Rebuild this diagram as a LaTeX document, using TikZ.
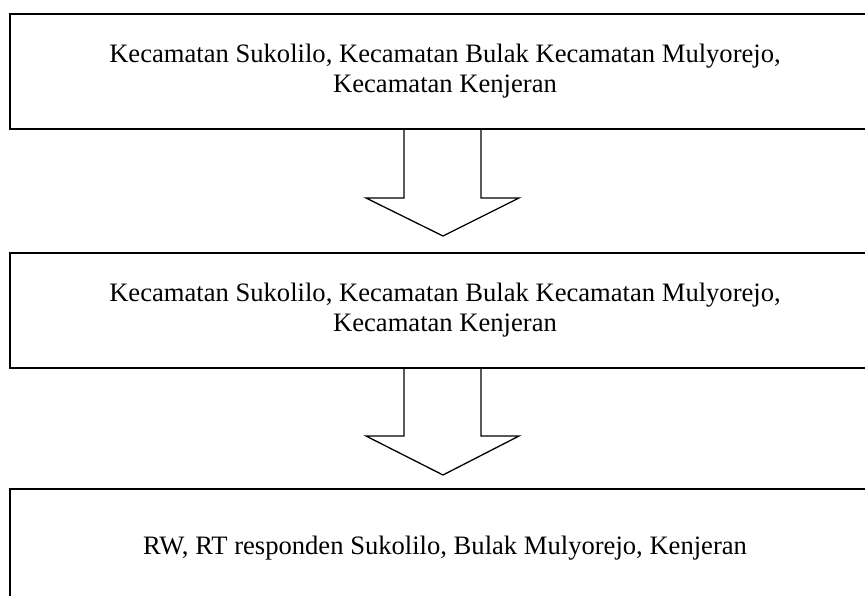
\documentclass[tikz,border=0pt]{standalone}
\usepackage{fontspec}
\setmainfont{Liberation Serif}
\begin{document}
\begin{tikzpicture}[x=1pt,y=-1pt,
  box/.style={draw, line width=1.6pt, minimum width=870pt, inner sep=0pt, align=center,
    font=\fontsize{26.6}{30}\selectfont},
  blockarrow/.style={draw, line width=1.3pt, line join=miter}]
\useasboundingbox (0,0) rectangle (865,596);
\clip (0,0) rectangle (865,596);
\node[box, minimum height=115pt] (b1) at (445,71.5) {Kecamatan Sukolilo, Kecamatan Bulak Kecamatan Mulyorejo,\\Kecamatan Kenjeran};
\node[box, minimum height=115pt] (b2) at (445,310.5) {Kecamatan Sukolilo, Kecamatan Bulak Kecamatan Mulyorejo,\\Kecamatan Kenjeran};
\node[box, minimum height=112pt, text depth=0pt] (b3) at (445,545) {RW, RT responden Sukolilo, Bulak Mulyorejo, Kenjeran};
\coordinate (t1) at (443,236);
\coordinate (t2) at (443,475);
\draw[blockarrow] (b1.south -| 404,0) -- (404,198) -- (366,198) -- (t1) -- (519,198) -- (481,198) -- (b1.south -| 481,0);
\draw[blockarrow] (b2.south -| 404,0) -- (404,436) -- (366,436) -- (t2) -- (519,436) -- (481,436) -- (b2.south -| 481,0);
\end{tikzpicture}
\end{document}
